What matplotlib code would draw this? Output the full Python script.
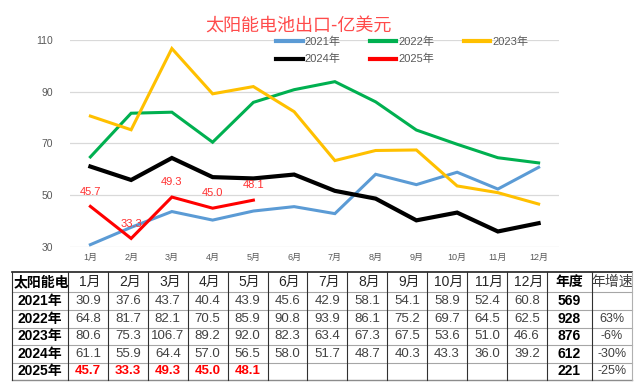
import matplotlib
matplotlib.use("Agg")
import matplotlib.pyplot as plt

# ── data ────────────────────────────────────────────────────────────────
months = ["1月", "2月", "3月", "4月", "5月", "6月",
          "7月", "8月", "9月", "10月", "11月", "12月"]
years = ["2021年", "2022年", "2023年", "2024年", "2025年"]
v2021 = [30.9, 37.6, 43.7, 40.4, 43.9, 45.6, 42.9, 58.1, 54.1, 58.9, 52.4, 60.8]
v2022 = [64.8, 81.7, 82.1, 70.5, 85.9, 90.8, 93.9, 86.1, 75.2, 69.7, 64.5, 62.5]
v2023 = [80.6, 75.3, 106.7, 89.2, 92.0, 82.3, 63.4, 67.3, 67.5, 53.6, 51.0, 46.6]
v2024 = [61.1, 55.9, 64.4, 57.0, 56.5, 58.0, 51.7, 48.7, 40.3, 43.3, 36.0, 39.2]
v2025 = [45.7, 33.3, 49.3, 45.0, 48.1]
annual = [569, 928, 876, 612, 221]
growth = ["", "63%", "-6%", "-30%", "-25%"]
yticks = [30, 50, 70, 90, 110]

series = [v2021, v2022, v2023, v2024, v2025]
colors = ["#5B9BD5", "#00B050", "#FFC000", "#000000", "#FF0000"]
widths = [2.2, 2.2, 2.2, 3.0, 2.2]

FONT = ["Liberation Sans", "Noto Sans CJK SC", "DejaVu Sans"]
plt.rcParams["font.family"] = FONT

W, H = 639, 389
fig = plt.figure(figsize=(W / 100, H / 100), dpi=100)


def px_axes(x0, y0, x1, y1):
    return fig.add_axes([x0 / W, 1 - y1 / H, (x1 - x0) / W, (y1 - y0) / H])


# ── line chart ──────────────────────────────────────────────────────────
ax = px_axes(70, 40, 559, 247)
xs = list(range(len(months)))
handles = []
for name, vals, c, lw in zip(years, series, colors, widths):
    h, = ax.plot(xs[:len(vals)], vals, color=c, lw=lw, label=name,
                 solid_joinstyle="miter", clip_on=False)
    handles.append(h)

for x, v in zip(xs, v2025):
    ax.annotate(f"{v:.1f}", (x, v), xytext=(0, 7), textcoords="offset points",
                ha="center", va="bottom", color="#FF3030", fontsize=8)

ax.set_xlim(-0.5, len(months) - 0.5)
ax.set_ylim(30, 110)
ax.set_yticks(yticks)
ax.set_xticks(xs)
ax.set_xticklabels(months)
ax.grid(axis="y", color="#D9D9D9", lw=0.9)
ax.set_axisbelow(True)
for s in ax.spines.values():
    s.set_visible(False)
ax.tick_params(axis="y", length=0, pad=12, labelsize=7.5, labelcolor="#595959")
ax.tick_params(axis="x", length=0, pad=4, labelsize=6.5, labelcolor="#595959")

order = [0, 3, 1, 4, 2]
leg = fig.legend([handles[i] for i in order], [years[i] for i in order],
                 ncol=3, frameon=False, fontsize=8, handlelength=2.4,
                 handletextpad=0.2, columnspacing=2.6, labelspacing=0.6,
                 loc="upper left", bbox_to_anchor=(266 / W, 1 - 27 / H))
for t in leg.get_texts():
    t.set_color("#595959")
for lh in leg.legend_handles:
    lh.set_linewidth(3)

fig.text(298 / W, 1 - 27 / H, "太阳能电池出口-亿美元", ha="center", va="center",
         fontsize=13, color="#FF4B4B", family=["Noto Sans CJK SC", "DejaVu Sans"])

# ── data table ──────────────────────────────────────────────────────────
tb = fig.add_axes([0, 0, 1, 1])
tb.set_xlim(0, W)
tb.set_ylim(H, 0)
tb.axis("off")

col_edges = [12, 68] + [68 + 39.9 * (k + 1) for k in range(12)] + [592, 632]
row_edges = [272, 292, 310, 327.5, 345, 362.5, 380]
x0, x1 = col_edges[0], col_edges[-1]

for i, y in enumerate(row_edges):
    if i == 0:
        tb.plot([x0, x1], [y, y], color="#202020", lw=1.2)
    elif i == len(row_edges) - 1:
        tb.plot([x0, x1], [y, y], color="#8C8C8C", lw=1.0)
    else:
        tb.plot([x0, x1], [y, y], color="#A6A6A6", lw=0.8)
for i, x in enumerate(col_edges):
    c = "#B0B0B0" if i == len(col_edges) - 1 else "#303030"
    tb.plot([x, x], [row_edges[0], row_edges[-1]], color=c, lw=0.8)

centers_x = [(a + b) / 2 for a, b in zip(col_edges[:-1], col_edges[1:])]
centers_y = [(a + b) / 2 for a, b in zip(row_edges[:-1], row_edges[1:])]

# header
tb.text(col_edges[0] + 2, centers_y[0], "太阳能电", ha="left", va="center",
        fontsize=10, color="black", fontweight="bold")
for j, m in enumerate(months):
    tb.text(centers_x[j + 1] + 2, centers_y[0], m, ha="center", va="center",
            fontsize=10, color="#262626")
tb.text(centers_x[13], centers_y[0], "年度", ha="center", va="center",
        fontsize=10, color="black", fontweight="bold")
tb.text(centers_x[14], centers_y[0], "年增速", ha="center", va="center",
        fontsize=10, color="#404040")

for r, (name, vals) in enumerate(zip(years, series)):
    cy = centers_y[r + 1]
    tb.text(centers_x[0], cy, name, ha="center", va="center",
            fontsize=10, color="black", fontweight="bold")
    is_cur = name == "2025年"
    for j, v in enumerate(vals):
        tb.text(centers_x[j + 1], cy, f"{v:.1f}", ha="center", va="center",
                fontsize=9.5, color="#FF0000" if is_cur else "#404040",
                fontweight="bold" if is_cur else "normal")
    tb.text(centers_x[13], cy, str(annual[r]), ha="center", va="center",
            fontsize=10, color="black", fontweight="bold")
    tb.text(centers_x[14], cy, growth[r], ha="center", va="center",
            fontsize=9, color="#404040")

fig.savefig("out.png", dpi=100)
